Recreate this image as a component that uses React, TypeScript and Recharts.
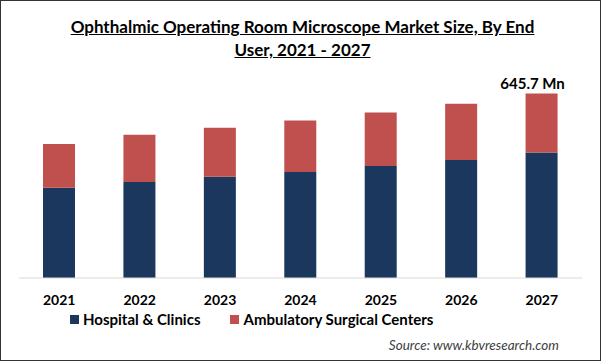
import React from "react";
import { BarChart, Bar, XAxis, YAxis } from "recharts";

const years = ["2021", "2022", "2023", "2024", "2025", "2026", "2027"];
const hospitalClinics = [316, 336, 354, 371, 392, 413, 439];
const ambulatoryCenters = [153, 165, 172, 180, 187, 197, 206.7];
const totalLabel = "645.7 Mn";

const NAVY = "#1b375e";
const RED = "#c0504d";
const FONT = "Lato, 'Open Sans', sans-serif";

const chartData = years.map((year, i) => ({
  year,
  hospital: hospitalClinics[i],
  ambulatory: ambulatoryCenters[i],
}));

const TopLabel = (props: any) => {
  const { x, y, width, index } = props;
  if (index !== years.length - 1) return null;
  return (
    <text
      x={x + width / 2 - 9}
      y={y - 5}
      textAnchor="middle"
      fontFamily={FONT}
      fontWeight={700}
      fontSize={15}
      fill="#000"
    >
      {totalLabel}
    </text>
  );
};

const App: React.FC = () => {
  return (
    <div
      style={{
        position: "absolute",
        left: 0,
        top: 0,
        width: 601,
        height: 361,
        background: "#fff",
        fontFamily: FONT,
      }}
    >
      {/* Title */}
      <div
        style={{
          position: "absolute",
          left: 0,
          top: 15,
          width: 605,
          textAlign: "center",
          fontWeight: 700,
          fontSize: 17,
          lineHeight: "23px",
          textDecoration: "underline",
          color: "#000",
        }}
      >
        Ophthalmic Operating Room Microscope Market Size, By End
        <br />
        User, 2021 - 2027
      </div>

      <div style={{ position: "absolute", left: 0, top: 0 }}>
        <BarChart
          width={601}
          height={361}
          data={chartData}
          margin={{ top: 78, right: 19, bottom: 53, left: 19 }}
          barSize={32}
        >
          <XAxis
            dataKey="year"
            height={30}
            stroke="#d9d9d9"
            tickLine={false}
            tickSize={0}
            tickMargin={17}
            tick={{ fill: "#000", fontSize: 14, fontWeight: 700, fontFamily: FONT }}
          />
          <YAxis hide domain={[0, 700]} />
          <Bar dataKey="hospital" stackId="a" fill={NAVY} isAnimationActive={false} />
          <Bar
            dataKey="ambulatory"
            stackId="a"
            fill={RED}
            isAnimationActive={false}
            label={<TopLabel />}
          />
        </BarChart>
      </div>

      {/* Legend */}
      <div
        style={{
          position: "absolute",
          left: 70,
          top: 310,
          display: "flex",
          alignItems: "center",
          fontWeight: 700,
          fontSize: 15,
          lineHeight: "18px",
          color: "#000",
        }}
      >
        <span style={{ width: 9, height: 9, background: NAVY, marginRight: 4 }} />
        <span>Hospital &amp; Clinics</span>
        <span
          style={{ width: 9, height: 9, background: RED, marginLeft: 30, marginRight: 4 }}
        />
        <span>Ambulatory Surgical Centers</span>
      </div>

      {/* Source */}
      <div
        style={{
          position: "absolute",
          right: 42,
          top: 337,
          fontStyle: "italic",
          fontSize: 13.5,
          color: "#404040",
        }}
      >
        Source: www.kbvresearch.com
      </div>

      {/* Frame */}
      <div
        style={{
          position: "absolute",
          left: 0,
          top: 0,
          width: 601,
          height: 361,
          boxSizing: "border-box",
          border: "1px solid #333",
          pointerEvents: "none",
        }}
      />
    </div>
  );
};

export default App;
